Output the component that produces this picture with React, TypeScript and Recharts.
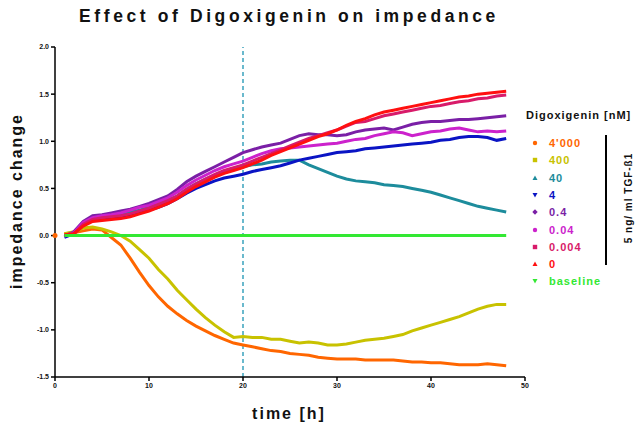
import React from "react";
import { LineChart, Line, XAxis, YAxis, ReferenceLine, ReferenceDot } from "recharts";

// time in hours
const hours = [
  1, 2, 3, 4, 5, 6, 7, 8, 9, 10, 11, 12, 13, 14, 15, 16, 17, 18, 19, 20, 21, 22, 23, 24,
  25, 26, 27, 28, 29, 30, 31, 32, 33, 34, 35, 36, 37, 38, 39, 40, 41, 42, 43, 44, 45, 46, 47, 48,
];

const dig4000 = [
  0.02, 0.03, 0.05, 0.07, 0.06, -0.02, -0.1, -0.24, -0.39, -0.53, -0.65, -0.75, -0.83, -0.9, -0.96, -1.01,
  -1.06, -1.1, -1.14, -1.16, -1.18, -1.2, -1.22, -1.23, -1.25, -1.26, -1.27, -1.29, -1.3, -1.31, -1.31, -1.31,
  -1.32, -1.32, -1.32, -1.32, -1.33, -1.34, -1.34, -1.35, -1.35, -1.36, -1.37, -1.37, -1.37, -1.36, -1.37, -1.38,
];
const dig400 = [
  0.02, 0.04, 0.08, 0.09, 0.07, 0.04, 0.0, -0.06, -0.15, -0.24, -0.36, -0.46, -0.58, -0.68, -0.78, -0.87,
  -0.95, -1.02, -1.08, -1.07, -1.08, -1.08, -1.1, -1.1, -1.12, -1.14, -1.13, -1.14, -1.16, -1.16, -1.15, -1.13,
  -1.11, -1.1, -1.09, -1.07, -1.05, -1.01, -0.98, -0.95, -0.92, -0.89, -0.86, -0.82, -0.78, -0.75, -0.73, -0.73,
];
const dig40 = [
  0.0, 0.03, 0.14, 0.19, 0.2, 0.21, 0.23, 0.25, 0.27, 0.3, 0.33, 0.37, 0.42, 0.49, 0.55, 0.6,
  0.64, 0.68, 0.71, 0.73, 0.75, 0.76, 0.78, 0.79, 0.8, 0.8, 0.75, 0.71, 0.67, 0.63, 0.6, 0.58,
  0.57, 0.56, 0.54, 0.53, 0.52, 0.5, 0.48, 0.46, 0.43, 0.4, 0.37, 0.34, 0.31, 0.29, 0.27, 0.25,
];
const dig4 = [
  -0.02, 0.02, 0.12, 0.16, 0.17, 0.18, 0.19, 0.21, 0.24, 0.27, 0.3, 0.34, 0.39, 0.45, 0.5, 0.54,
  0.58, 0.61, 0.63, 0.65, 0.68, 0.7, 0.72, 0.74, 0.77, 0.8, 0.82, 0.84, 0.86, 0.88, 0.89, 0.9,
  0.92, 0.93, 0.94, 0.95, 0.96, 0.97, 0.98, 0.99, 1.01, 1.02, 1.04, 1.05, 1.05, 1.04, 1.01, 1.03,
];
const dig04 = [
  -0.01, 0.04, 0.15, 0.21, 0.22, 0.24, 0.26, 0.28, 0.31, 0.34, 0.38, 0.42, 0.49, 0.57, 0.63, 0.68,
  0.73, 0.78, 0.83, 0.88, 0.91, 0.94, 0.96, 0.98, 1.02, 1.06, 1.08, 1.07, 1.07, 1.06, 1.07, 1.1,
  1.12, 1.13, 1.14, 1.12, 1.15, 1.18, 1.2, 1.21, 1.21, 1.22, 1.23, 1.23, 1.24, 1.25, 1.26, 1.27,
];
const dig004 = [
  0.0, 0.03, 0.14, 0.19, 0.21, 0.22, 0.24, 0.27, 0.3, 0.32, 0.36, 0.4, 0.46, 0.53, 0.59, 0.64,
  0.69, 0.73, 0.76, 0.79, 0.83, 0.87, 0.9, 0.92, 0.93, 0.94, 0.95, 0.96, 0.97, 0.98, 1.0, 1.02,
  1.03, 1.06, 1.08, 1.1, 1.09, 1.06, 1.08, 1.1, 1.11, 1.13, 1.14, 1.12, 1.1, 1.11, 1.1, 1.11,
];
const dig0004 = [
  0.0, 0.02, 0.12, 0.17, 0.19, 0.2, 0.21, 0.23, 0.26, 0.29, 0.33, 0.37, 0.42, 0.49, 0.55, 0.6,
  0.65, 0.69, 0.72, 0.75, 0.79, 0.83, 0.87, 0.91, 0.95, 0.99, 1.03, 1.06, 1.09, 1.12, 1.16, 1.2,
  1.21, 1.24, 1.27, 1.29, 1.31, 1.33, 1.35, 1.37, 1.38, 1.4, 1.42, 1.43, 1.45, 1.46, 1.48, 1.49,
];
const dig0 = [
  0.01, 0.02, 0.1, 0.15, 0.16, 0.17, 0.18, 0.2, 0.23, 0.26, 0.3, 0.34, 0.39, 0.46, 0.52, 0.57,
  0.62, 0.66, 0.69, 0.72, 0.76, 0.8, 0.85, 0.89, 0.93, 0.97, 1.01, 1.05, 1.08, 1.12, 1.17, 1.21,
  1.24, 1.28, 1.31, 1.33, 1.35, 1.37, 1.39, 1.41, 1.43, 1.45, 1.47, 1.48, 1.5, 1.51, 1.52, 1.53,
];
const baseline = [
  0, 0, 0, 0, 0, 0, 0, 0, 0, 0, 0, 0, 0, 0, 0, 0, 0, 0, 0, 0, 0, 0, 0, 0,
  0, 0, 0, 0, 0, 0, 0, 0, 0, 0, 0, 0, 0, 0, 0, 0, 0, 0, 0, 0, 0, 0, 0, 0,
];

// single 4'000 reading at t = 0
const startPoint = { t: 0, v: 0 };
const treatmentTime = 20;

const xTicks = [0, 10, 20, 30, 40, 50];
const yTicks = [-1.5, -1.0, -0.5, 0.0, 0.5, 1.0, 1.5, 2.0];

const series = [
  { key: "d4000", name: "4'000", values: dig4000, color: "#ff6600", shape: "circle" },
  { key: "d400", name: "400", values: dig400, color: "#c8c200", shape: "square" },
  { key: "d40", name: "40", values: dig40, color: "#1d8c9c", shape: "up" },
  { key: "d4", name: "4", values: dig4, color: "#0a14c4", shape: "down" },
  { key: "d04", name: "0.4", values: dig04, color: "#7a1fa6", shape: "diamond" },
  { key: "d004", name: "0.04", values: dig004, color: "#cc22cc", shape: "circle" },
  { key: "d0004", name: "0.004", values: dig0004, color: "#d81b6a", shape: "square" },
  { key: "d0", name: "0", values: dig0, color: "#ff1010", shape: "up" },
  { key: "base", name: "baseline", values: baseline, color: "#33e833", shape: "down" },
];

const data = hours.map((t, i) => {
  const row: Record<string, number> = { t };
  series.forEach((s) => {
    row[s.key] = s.values[i];
  });
  return row;
});

const font = "'Liberation Sans', Arial, sans-serif";

function Marker({ shape, color }: { shape: string; color: string }) {
  let el;
  if (shape === "circle") el = <circle cx={4} cy={4} r={2.2} fill={color} />;
  else if (shape === "square") el = <rect x={1.8} y={1.8} width={4.4} height={4.4} fill={color} />;
  else if (shape === "up") el = <polygon points="4,1.5 6.5,6 1.5,6" fill={color} />;
  else if (shape === "down") el = <polygon points="1.5,2 6.5,2 4,6.5" fill={color} />;
  else el = <polygon points="4,1.3 6.7,4 4,6.7 1.3,4" fill={color} />;
  return (
    <svg width={8} height={8} style={{ display: "block" }}>
      {el}
    </svg>
  );
}

export default function App() {
  return (
    <div
      style={{
        position: "absolute",
        left: 0,
        top: 0,
        width: 637,
        height: 427,
        background: "#fff",
        fontFamily: font,
      }}
    >
      <div
        style={{
          position: "absolute",
          left: 0,
          width: 578,
          top: 6,
          textAlign: "center",
          fontWeight: "bold",
          fontSize: 17.5,
          letterSpacing: 3.6,
          color: "#111",
        }}
      >
        Effect of Digoxigenin on impedance
      </div>

      <LineChart
        width={637}
        height={427}
        data={data}
        margin={{ top: 47, right: 112, bottom: 30, left: 0 }}
        style={{ position: "absolute", left: 0, top: 0 }}
      >
        <XAxis
          dataKey="t"
          type="number"
          domain={[0, 50]}
          ticks={xTicks}
          tickSize={4}
          height={20}
          axisLine={{ stroke: "#000", strokeWidth: 1.5 }}
          tickLine={{ stroke: "#000", strokeWidth: 1.5 }}
          tick={{ fontSize: 7, fontWeight: "bold", fill: "#111", fontFamily: font }}
        />
        <YAxis
          type="number"
          domain={[-1.5, 2]}
          ticks={yTicks}
          width={55}
          tickSize={4}
          interval={0}
          tickFormatter={(v: number) => v.toFixed(1)}
          axisLine={{ stroke: "#000", strokeWidth: 1.5 }}
          tickLine={{ stroke: "#000", strokeWidth: 1.5 }}
          tick={{ fontSize: 7, fontWeight: "bold", fill: "#111", fontFamily: font }}
        />
        <ReferenceLine x={treatmentTime} stroke="#3aa3bd" strokeWidth={1.5} strokeDasharray="4 3" />
        {series.map((s) => (
          <Line
            key={s.key}
            dataKey={s.key}
            type="linear"
            stroke={s.color}
            strokeWidth={3}
            dot={false}
            isAnimationActive={false}
          />
        ))}
        <ReferenceDot x={startPoint.t} y={startPoint.v} r={2.5} fill="#ff6600" stroke="none" />
      </LineChart>

      <div
        style={{
          position: "absolute",
          left: 17,
          top: 201,
          transform: "translate(-50%, -50%) rotate(-90deg)",
          whiteSpace: "nowrap",
          fontWeight: "bold",
          fontSize: 16,
          letterSpacing: 2,
          color: "#111",
        }}
      >
        impedance change
      </div>

      <div
        style={{
          position: "absolute",
          left: 289,
          top: 414,
          transform: "translate(-50%, -50%)",
          whiteSpace: "nowrap",
          fontWeight: "bold",
          fontSize: 16,
          letterSpacing: 2,
          color: "#111",
        }}
      >
        time [h]
      </div>

      <div
        style={{
          position: "absolute",
          left: 526,
          top: 109,
          whiteSpace: "nowrap",
          fontWeight: "bold",
          fontSize: 11,
          letterSpacing: 1,
          color: "#111",
        }}
      >
        Digoxigenin [nM]
      </div>

      {series.map((s, i) => (
        <div
          key={s.key}
          style={{
            position: "absolute",
            left: 531,
            top: 143 + i * 17.3 - 7,
            height: 14,
            display: "flex",
            alignItems: "center",
            whiteSpace: "nowrap",
          }}
        >
          <Marker shape={s.shape} color={s.color} />
          <span
            style={{
              marginLeft: 10,
              fontWeight: "bold",
              fontSize: 11,
              letterSpacing: 1,
              color: s.color,
            }}
          >
            {s.name}
          </span>
        </div>
      ))}

      <div
        style={{
          position: "absolute",
          left: 605,
          top: 135,
          width: 1.5,
          height: 130,
          background: "#000",
        }}
      />
      <div
        style={{
          position: "absolute",
          left: 628,
          top: 198,
          transform: "translate(-50%, -50%) rotate(-90deg)",
          whiteSpace: "nowrap",
          fontWeight: "bold",
          fontSize: 10,
          letterSpacing: 1,
          color: "#111",
        }}
      >
        5 ng/ ml TGF-ß1
      </div>
    </div>
  );
}
